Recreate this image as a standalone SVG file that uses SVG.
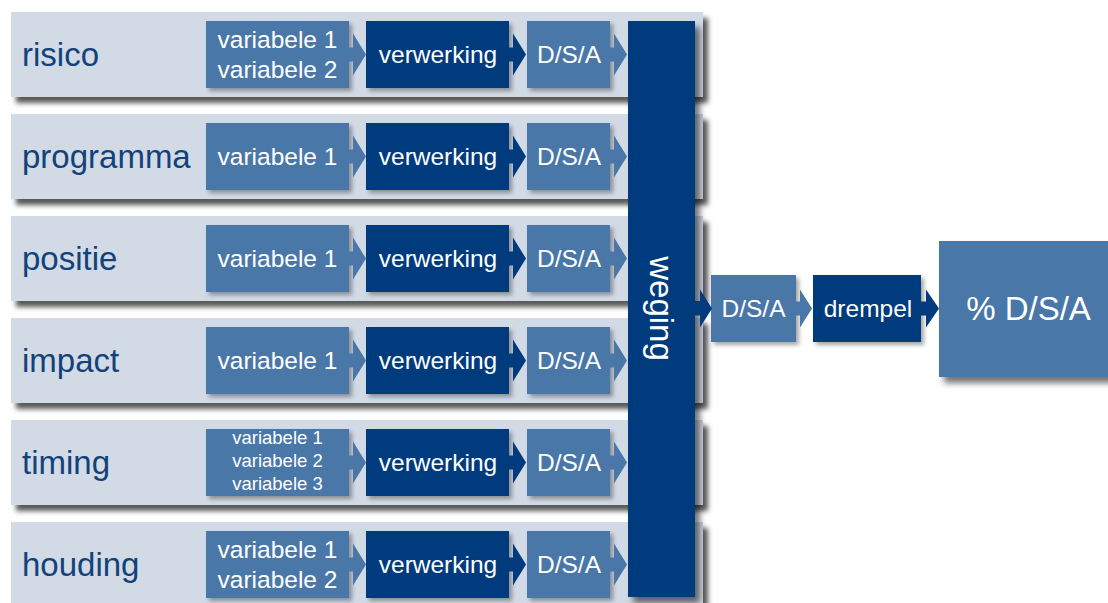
<svg xmlns="http://www.w3.org/2000/svg" width="1108" height="603" viewBox="0 0 1108 603">
<defs>
<filter id="bandShadow" x="-5%" y="-20%" width="115%" height="150%">
<feDropShadow dx="5" dy="6" stdDeviation="2.5" flood-color="#000" flood-opacity="0.65"/>
</filter>
<filter id="boxShadow" x="-10%" y="-10%" width="130%" height="135%">
<feDropShadow dx="3" dy="3" stdDeviation="2" flood-color="#000" flood-opacity="0.35"/>
</filter>
<filter id="bigShadow" x="-10%" y="-10%" width="130%" height="135%">
<feDropShadow dx="5" dy="6" stdDeviation="3" flood-color="#000" flood-opacity="0.55"/>
</filter>
<style>
.band{fill:#d2dae6;filter:url(#bandShadow)}
.mid{fill:#4a77a8;filter:url(#boxShadow)}
.dark{fill:#023b7d;filter:url(#boxShadow)}
.amid{fill:#4a77a8}
.adark{fill:#023b7d}
.lbl{font-family:"Liberation Sans",Arial,sans-serif;font-size:33px;fill:#12427a}
.t{font-family:"Liberation Sans",Arial,sans-serif;font-size:24.5px;fill:#fff;text-anchor:middle}
.ts{font-family:"Liberation Sans",Arial,sans-serif;font-size:18.5px;fill:#fff;text-anchor:middle}
.tb{font-family:"Liberation Sans",Arial,sans-serif;font-size:33px;fill:#fff;text-anchor:middle}
</style>
</defs>
<rect width="1108" height="603" fill="#ffffff"/>

<g id="bands">
<rect class="band" x="11" y="12" width="692" height="85"/>
<rect class="band" x="11" y="114" width="692" height="85"/>
<rect class="band" x="11" y="216" width="692" height="85"/>
<rect class="band" x="11" y="318" width="692" height="85"/>
<rect class="band" x="11" y="420" width="692" height="85"/>
<rect class="band" x="11" y="522" width="692" height="85"/>
</g>

<g id="node-weging">
<rect x="628" y="21" width="67" height="576" fill="#023b7d" filter="url(#bigShadow)"/>
<text class="tb" transform="translate(650,308.5) rotate(90)">weging</text>
</g>

<g id="row-risico">
<text class="lbl" x="22" y="66">risico</text>
<g id="risico-var"><rect class="mid" x="206" y="21" width="143" height="67"/>
<text class="t" x="277.5" y="48">variabele 1</text><text class="t" x="277.5" y="78">variabele 2</text></g>
<g id="risico-verwerking"><rect class="dark" x="366" y="21" width="143" height="67"/><text class="t" x="438" y="63">verwerking</text></g>
<g id="risico-dsa"><rect class="mid" x="527" y="21" width="83" height="67"/><text class="t" x="569" y="63">D/S/A</text></g>
</g>

<g id="row-programma">
<text class="lbl" x="22" y="168">programma</text>
<g id="programma-var"><rect class="mid" x="206" y="123" width="143" height="67"/><text class="t" x="277.5" y="165">variabele 1</text></g>
<g id="programma-verwerking"><rect class="dark" x="366" y="123" width="143" height="67"/><text class="t" x="438" y="165">verwerking</text></g>
<g id="programma-dsa"><rect class="mid" x="527" y="123" width="83" height="67"/><text class="t" x="569" y="165">D/S/A</text></g>
</g>

<g id="row-positie">
<text class="lbl" x="22" y="270">positie</text>
<g id="positie-var"><rect class="mid" x="206" y="225" width="143" height="67"/><text class="t" x="277.5" y="267">variabele 1</text></g>
<g id="positie-verwerking"><rect class="dark" x="366" y="225" width="143" height="67"/><text class="t" x="438" y="267">verwerking</text></g>
<g id="positie-dsa"><rect class="mid" x="527" y="225" width="83" height="67"/><text class="t" x="569" y="267">D/S/A</text></g>
</g>

<g id="row-impact">
<text class="lbl" x="22" y="372">impact</text>
<g id="impact-var"><rect class="mid" x="206" y="327" width="143" height="67"/><text class="t" x="277.5" y="369">variabele 1</text></g>
<g id="impact-verwerking"><rect class="dark" x="366" y="327" width="143" height="67"/><text class="t" x="438" y="369">verwerking</text></g>
<g id="impact-dsa"><rect class="mid" x="527" y="327" width="83" height="67"/><text class="t" x="569" y="369">D/S/A</text></g>
</g>

<g id="row-timing">
<text class="lbl" x="22" y="474">timing</text>
<g id="timing-var"><rect class="mid" x="206" y="429" width="143" height="67"/>
<text class="ts" x="277.5" y="444">variabele 1</text><text class="ts" x="277.5" y="467">variabele 2</text><text class="ts" x="277.5" y="490">variabele 3</text></g>
<g id="timing-verwerking"><rect class="dark" x="366" y="429" width="143" height="67"/><text class="t" x="438" y="471">verwerking</text></g>
<g id="timing-dsa"><rect class="mid" x="527" y="429" width="83" height="67"/><text class="t" x="569" y="471">D/S/A</text></g>
</g>

<g id="row-houding">
<text class="lbl" x="22" y="576">houding</text>
<g id="houding-var"><rect class="mid" x="206" y="531" width="143" height="67"/>
<text class="t" x="277.5" y="558">variabele 1</text><text class="t" x="277.5" y="588">variabele 2</text></g>
<g id="houding-verwerking"><rect class="dark" x="366" y="531" width="143" height="67"/><text class="t" x="438" y="573">verwerking</text></g>
<g id="houding-dsa"><rect class="mid" x="527" y="531" width="83" height="67"/><text class="t" x="569" y="573">D/S/A</text></g>
</g>

<g id="node-dsa-total">
<rect class="mid" x="711" y="275" width="85" height="67"/><text class="t" x="753.5" y="317">D/S/A</text>
</g>
<g id="node-drempel">
<rect class="dark" x="813" y="275" width="108" height="67"/><text class="t" x="868" y="317">drempel</text>
</g>
<g id="node-pct">
<rect x="939" y="241" width="185" height="136" fill="#4a77a8" filter="url(#bigShadow)"/>
<text class="tb" x="1028.5" y="320">% D/S/A</text>
</g>

<g id="connectors">
<path class="amid" d="M348 47.5H353V33.5L366 54.5L353 75.5V61.5H348Z"/>
<path class="adark" d="M508 47.5H513V33.5L526 54.5L513 75.5V61.5H508Z"/>
<path class="amid" d="M609 47.5H614V33.5L627 54.5L614 75.5V61.5H609Z"/>

<path class="amid" d="M348 149.5H353V135.5L366 156.5L353 177.5V163.5H348Z"/>
<path class="adark" d="M508 149.5H513V135.5L526 156.5L513 177.5V163.5H508Z"/>
<path class="amid" d="M609 149.5H614V135.5L627 156.5L614 177.5V163.5H609Z"/>

<path class="amid" d="M348 251.5H353V237.5L366 258.5L353 279.5V265.5H348Z"/>
<path class="adark" d="M508 251.5H513V237.5L526 258.5L513 279.5V265.5H508Z"/>
<path class="amid" d="M609 251.5H614V237.5L627 258.5L614 279.5V265.5H609Z"/>

<path class="amid" d="M348 353.5H353V339.5L366 360.5L353 381.5V367.5H348Z"/>
<path class="adark" d="M508 353.5H513V339.5L526 360.5L513 381.5V367.5H508Z"/>
<path class="amid" d="M609 353.5H614V339.5L627 360.5L614 381.5V367.5H609Z"/>

<path class="amid" d="M348 455.5H353V441.5L366 462.5L353 483.5V469.5H348Z"/>
<path class="adark" d="M508 455.5H513V441.5L526 462.5L513 483.5V469.5H508Z"/>
<path class="amid" d="M609 455.5H614V441.5L627 462.5L614 483.5V469.5H609Z"/>

<path class="amid" d="M348 557.5H353V543.5L366 564.5L353 585.5V571.5H348Z"/>
<path class="adark" d="M508 557.5H513V543.5L526 564.5L513 585.5V571.5H508Z"/>
<path class="amid" d="M609 557.5H614V543.5L627 564.5L614 585.5V571.5H609Z"/>

<path class="adark" d="M694 301.5H700V289.5L712 308.5L700 327.5V315.5H694Z"/>
<path class="amid" d="M795 301.5H800V289.5L812 308.5L800 327.5V315.5H795Z"/>
<path class="adark" d="M920 301.5H926V289.5L939 308.5L926 327.5V315.5H920Z"/>
</g>
</svg>
